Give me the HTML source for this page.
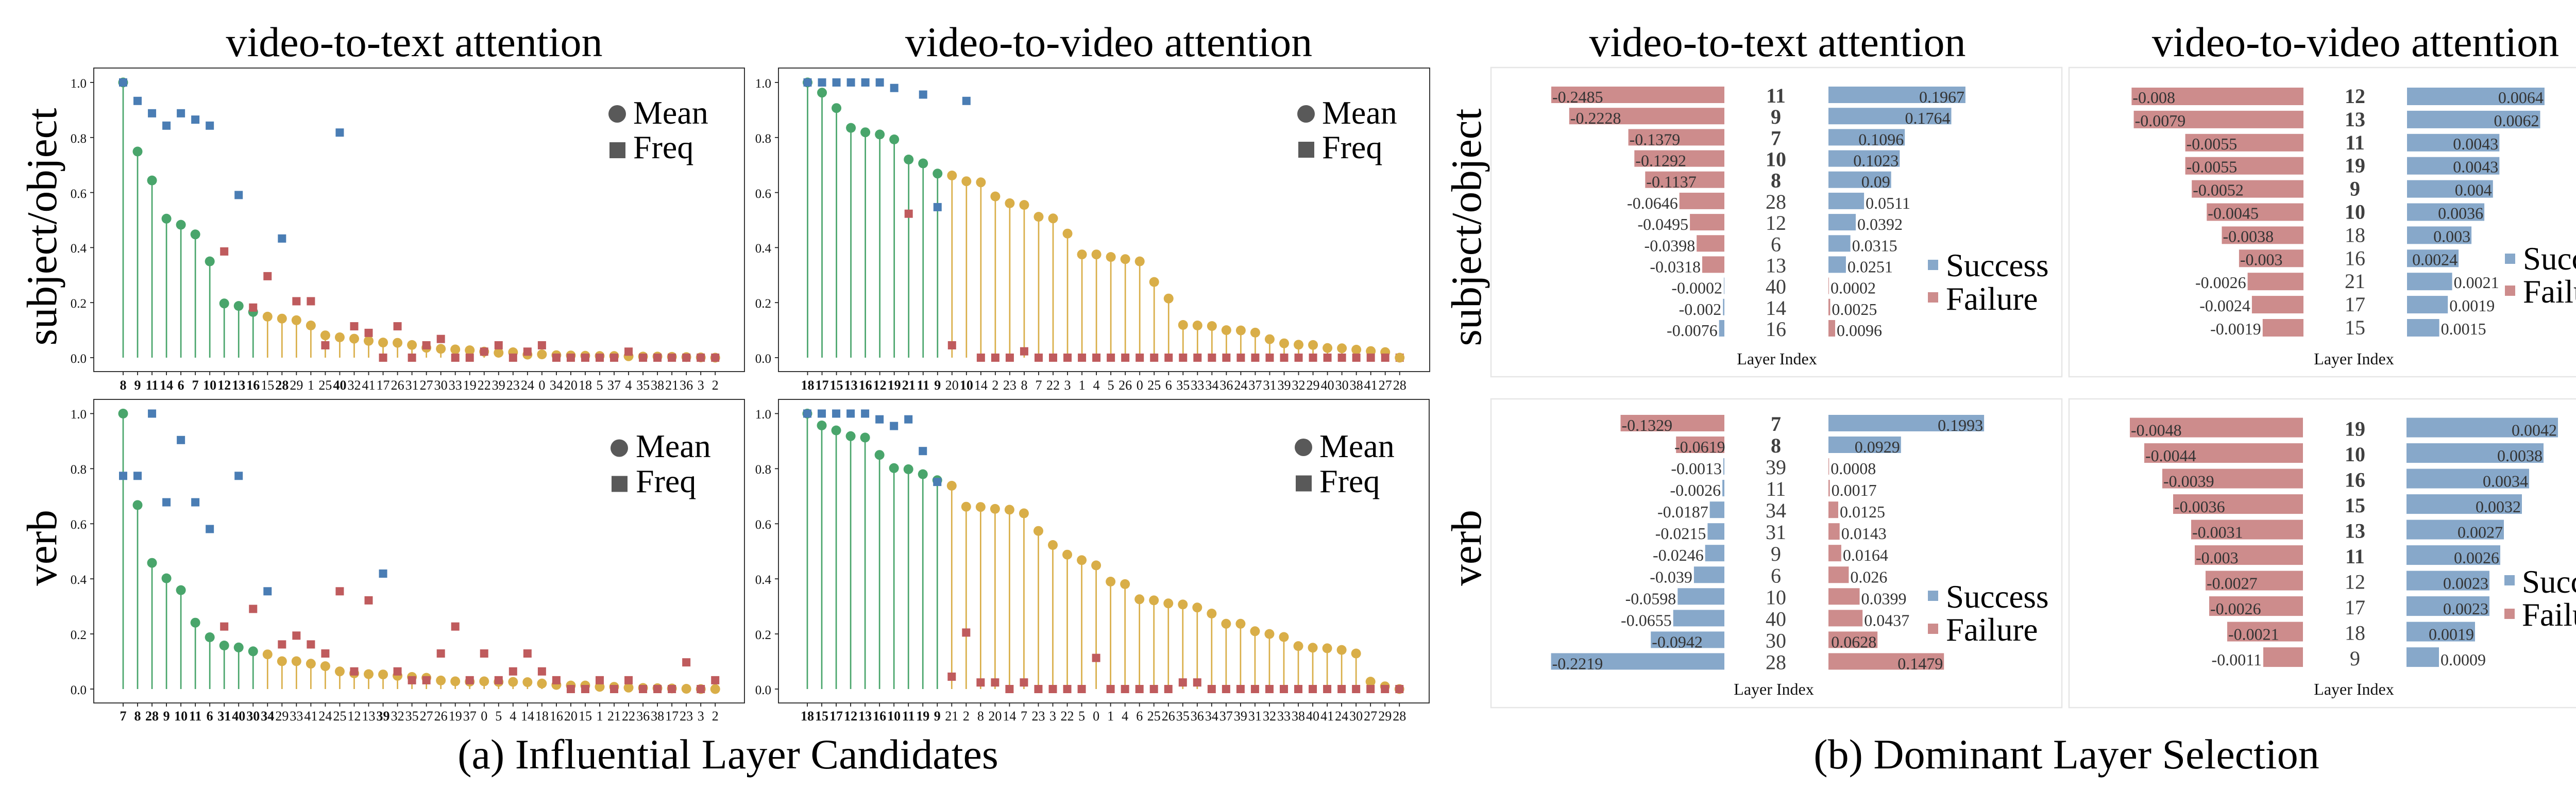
<!DOCTYPE html>
<html><head><meta charset="utf-8"><style>
html,body{margin:0;padding:0;background:#fff}
svg{display:block}
svg text{font-family:"Liberation Serif","Times New Roman",serif;fill:#000}
.k{font-size:26px;text-anchor:middle;fill:#111}
.b{font-weight:bold}
.yt{font-size:25px;text-anchor:end;fill:#111}
.ti{font-size:82px;text-anchor:middle}
.yl{font-size:83px;text-anchor:middle}
.lg{font-size:64px}
.v{font-size:32px;fill:#333}
.e{text-anchor:end}
.L{font-size:40px;fill:#404040;text-anchor:middle}
.li{font-size:32px;text-anchor:middle;fill:#111}
.lg2{font-size:63px}
line.g{stroke:#49a56b;stroke-width:2.7}
line.y{stroke:#d9ae48;stroke-width:2.7}
circle.g{fill:#49a56b}
circle.y{fill:#d9ae48}
.fr{fill:none;stroke:#222;stroke-width:1.8}
.fr2{fill:none;stroke:#e6e6e6;stroke-width:2.5}
.tk{stroke:#222;stroke-width:1.8}
.rr{fill:#cd8c8c}
.bb{fill:#87a8ca}
</style></head><body>
<svg width="5142" height="1562" viewBox="0 0 5142 1562" xmlns="http://www.w3.org/2000/svg">
<defs>
<rect id="B" x="-8" y="-8" width="16" height="16" fill="#4a7db4"/>
<rect id="R" x="-8" y="-8" width="16" height="16" fill="#bf5b5d"/>
<line id="T" x1="0" x2="0" y1="721" y2="728" stroke="#222" stroke-width="1.8"/>
<line id="U" x1="0" x2="0" y1="1364" y2="1371" stroke="#222" stroke-width="1.8"/>
</defs>
<rect width="5142" height="1562" fill="#fff"/>

<!-- Titles -->
<text class="ti" x="804" y="109">video-to-text attention</text>
<text class="ti" x="2152" y="109">video-to-video attention</text>
<text class="ti" x="3450" y="109">video-to-text attention</text>
<text class="ti" x="4572" y="109">video-to-video attention</text>

<!-- Y labels -->
<text class="yl" transform="translate(109,440) rotate(-90)">subject/object</text>
<text class="yl" transform="translate(109,1063) rotate(-90)">verb</text>
<text class="yl" transform="translate(2874,441) rotate(-90)">subject/object</text>
<text class="yl" transform="translate(2874,1063) rotate(-90)">verb</text>

<!-- Captions -->
<text class="ti" x="1413" y="1491">(a) Influential Layer Candidates</text>
<text class="ti" x="4011" y="1491">(b) Dominant Layer Selection</text>

<!-- ================= P1 ================= -->
<rect class="fr" x="182" y="132" width="1263" height="589"/>
<g>
<line class="tk" x1="175" x2="182" y1="694" y2="694"/><text class="yt" x="168" y="704">0.0</text>
<line class="tk" x1="175" x2="182" y1="587.2" y2="587.2"/><text class="yt" x="168" y="597">0.2</text>
<line class="tk" x1="175" x2="182" y1="480.4" y2="480.4"/><text class="yt" x="168" y="490">0.4</text>
<line class="tk" x1="175" x2="182" y1="373.6" y2="373.6"/><text class="yt" x="168" y="384">0.6</text>
<line class="tk" x1="175" x2="182" y1="266.8" y2="266.8"/><text class="yt" x="168" y="277">0.8</text>
<line class="tk" x1="175" x2="182" y1="160" y2="160"/><text class="yt" x="168" y="170">1.0</text>
</g>
<g transform="translate(239,0)">
<g><line class="g" y1="694" y2="160"/><circle class="g" cy="160" r="9.5"/><use href="#B" y="160"/><use href="#T"/><text class="k b" y="756">8</text></g>
<g transform="translate(28.03)"><line class="g" y1="694" y2="294"/><circle class="g" cy="294" r="9.5"/><use href="#B" y="195.8"/><use href="#T"/><text class="k b" y="756">9</text></g>
<g transform="translate(56.06)"><line class="g" y1="694" y2="350.1"/><circle class="g" cy="350.1" r="9.5"/><use href="#B" y="219.8"/><use href="#T"/><text class="k b" y="756">11</text></g>
<g transform="translate(84.09)"><line class="g" y1="694" y2="424.3"/><circle class="g" cy="424.3" r="9.5"/><use href="#B" y="243.8"/><use href="#T"/><text class="k b" y="756">14</text></g>
<g transform="translate(112.12)"><line class="g" y1="694" y2="436.1"/><circle class="g" cy="436.1" r="9.5"/><use href="#B" y="219.8"/><use href="#T"/><text class="k b" y="756">6</text></g>
<g transform="translate(140.15)"><line class="g" y1="694" y2="454.8"/><circle class="g" cy="454.8" r="9.5"/><use href="#B" y="232.1"/><use href="#T"/><text class="k b" y="756">7</text></g>
<g transform="translate(168.18)"><line class="g" y1="694" y2="507.1"/><circle class="g" cy="507.1" r="9.5"/><use href="#B" y="243.8"/><use href="#T"/><text class="k b" y="756">10</text></g>
<g transform="translate(196.21)"><line class="g" y1="694" y2="588.8"/><circle class="g" cy="588.8" r="9.5"/><use href="#R" y="487.9"/><use href="#T"/><text class="k b" y="756">12</text></g>
<g transform="translate(224.24)"><line class="g" y1="694" y2="593.6"/><circle class="g" cy="593.6" r="9.5"/><use href="#B" y="378.4"/><use href="#T"/><text class="k b" y="756">13</text></g>
<g transform="translate(252.27)"><line class="g" y1="694" y2="605.4"/><circle class="g" cy="605.4" r="9.5"/><use href="#R" y="596.8"/><use href="#T"/><text class="k b" y="756">16</text></g>
<g transform="translate(280.3)"><line class="y" y1="694" y2="614.4"/><circle class="y" cy="614.4" r="9.5"/><use href="#R" y="535.9"/><use href="#T"/><text class="k" y="756">15</text></g>
<g transform="translate(308.33)"><line class="y" y1="694" y2="618.2"/><circle class="y" cy="618.2" r="9.5"/><use href="#B" y="462.8"/><use href="#T"/><text class="k b" y="756">28</text></g>
<g transform="translate(336.36)"><line class="y" y1="694" y2="621.4"/><circle class="y" cy="621.4" r="9.5"/><use href="#R" y="584.5"/><use href="#T"/><text class="k" y="756">29</text></g>
<g transform="translate(364.39)"><line class="y" y1="694" y2="631.5"/><circle class="y" cy="631.5" r="9.5"/><use href="#R" y="584.5"/><use href="#T"/><text class="k" y="756">1</text></g>
<g transform="translate(392.42)"><line class="y" y1="694" y2="650.7"/><circle class="y" cy="650.7" r="9.5"/><use href="#R" y="670"/><use href="#T"/><text class="k" y="756">25</text></g>
<g transform="translate(420.45)"><line class="y" y1="694" y2="654.5"/><circle class="y" cy="654.5" r="9.5"/><use href="#B" y="257.2"/><use href="#T"/><text class="k b" y="756">40</text></g>
<g transform="translate(448.48)"><line class="y" y1="694" y2="657.2"/><circle class="y" cy="657.2" r="9.5"/><use href="#R" y="633.1"/><use href="#T"/><text class="k" y="756">32</text></g>
<g transform="translate(476.51)"><line class="y" y1="694" y2="661.4"/><circle class="y" cy="661.4" r="9.5"/><use href="#R" y="645.9"/><use href="#T"/><text class="k" y="756">41</text></g>
<g transform="translate(504.54)"><line class="y" y1="694" y2="664.6"/><circle class="y" cy="664.6" r="9.5"/><use href="#R" y="694"/><use href="#T"/><text class="k" y="756">17</text></g>
<g transform="translate(532.57)"><line class="y" y1="694" y2="665.2"/><circle class="y" cy="665.2" r="9.5"/><use href="#R" y="633.1"/><use href="#T"/><text class="k" y="756">26</text></g>
<g transform="translate(560.6)"><line class="y" y1="694" y2="669.4"/><circle class="y" cy="669.4" r="9.5"/><use href="#R" y="694"/><use href="#T"/><text class="k" y="756">31</text></g>
<g transform="translate(588.63)"><line class="y" y1="694" y2="674.8"/><circle class="y" cy="674.8" r="9.5"/><use href="#R" y="670"/><use href="#T"/><text class="k" y="756">27</text></g>
<g transform="translate(616.66)"><line class="y" y1="694" y2="676.9"/><circle class="y" cy="676.9" r="9.5"/><use href="#R" y="657.7"/><use href="#T"/><text class="k" y="756">30</text></g>
<g transform="translate(644.69)"><line class="y" y1="694" y2="678"/><circle class="y" cy="678" r="9.5"/><use href="#R" y="694"/><use href="#T"/><text class="k" y="756">33</text></g>
<g transform="translate(672.72)"><line class="y" y1="694" y2="679.6"/><circle class="y" cy="679.6" r="9.5"/><use href="#R" y="694"/><use href="#T"/><text class="k" y="756">19</text></g>
<g transform="translate(700.75)"><line class="y" y1="694" y2="682.3"/><circle class="y" cy="682.3" r="9.5"/><use href="#R" y="682.3"/><use href="#T"/><text class="k" y="756">22</text></g>
<g transform="translate(728.78)"><line class="y" y1="694" y2="684.5"/><circle class="y" cy="684.5" r="9.5"/><use href="#R" y="670"/><use href="#T"/><text class="k" y="756">39</text></g>
<g transform="translate(756.81)"><line class="y" y1="694" y2="683.5"/><circle class="y" cy="683.5" r="9.5"/><use href="#R" y="694"/><use href="#T"/><text class="k" y="756">23</text></g>
<g transform="translate(784.84)"><line class="y" y1="694" y2="688.1"/><circle class="y" cy="688.1" r="9.5"/><use href="#R" y="682.3"/><use href="#T"/><text class="k" y="756">24</text></g>
<g transform="translate(812.87)"><line class="y" y1="694" y2="687.6"/><circle class="y" cy="687.6" r="9.5"/><use href="#R" y="670"/><use href="#T"/><text class="k" y="756">0</text></g>
<g transform="translate(840.9)"><line class="y" y1="694" y2="689.2"/><circle class="y" cy="689.2" r="9.5"/><use href="#R" y="694"/><use href="#T"/><text class="k" y="756">34</text></g>
<g transform="translate(868.93)"><line class="y" y1="694" y2="689.7"/><circle class="y" cy="689.7" r="9.5"/><use href="#R" y="694"/><use href="#T"/><text class="k" y="756">20</text></g>
<g transform="translate(896.96)"><line class="y" y1="694" y2="690.3"/><circle class="y" cy="690.3" r="9.5"/><use href="#R" y="694"/><use href="#T"/><text class="k" y="756">18</text></g>
<g transform="translate(924.99)"><line class="y" y1="694" y2="690.8"/><circle class="y" cy="690.8" r="9.5"/><use href="#R" y="694"/><use href="#T"/><text class="k" y="756">5</text></g>
<g transform="translate(953.02)"><line class="y" y1="694" y2="690.8"/><circle class="y" cy="690.8" r="9.5"/><use href="#R" y="694"/><use href="#T"/><text class="k" y="756">37</text></g>
<g transform="translate(981.05)"><line class="y" y1="694" y2="691.3"/><circle class="y" cy="691.3" r="9.5"/><use href="#R" y="682.3"/><use href="#T"/><text class="k" y="756">4</text></g>
<g transform="translate(1009.08)"><line class="y" y1="694" y2="691.9"/><circle class="y" cy="691.9" r="9.5"/><use href="#R" y="694"/><use href="#T"/><text class="k" y="756">35</text></g>
<g transform="translate(1037.11)"><line class="y" y1="694" y2="691.9"/><circle class="y" cy="691.9" r="9.5"/><use href="#R" y="694"/><use href="#T"/><text class="k" y="756">38</text></g>
<g transform="translate(1065.14)"><line class="y" y1="694" y2="692.4"/><circle class="y" cy="692.4" r="9.5"/><use href="#R" y="694"/><use href="#T"/><text class="k" y="756">21</text></g>
<g transform="translate(1093.17)"><line class="y" y1="694" y2="692.9"/><circle class="y" cy="692.9" r="9.5"/><use href="#R" y="694"/><use href="#T"/><text class="k" y="756">36</text></g>
<g transform="translate(1121.2)"><line class="y" y1="694" y2="693.5"/><circle class="y" cy="693.5" r="9.5"/><use href="#R" y="694"/><use href="#T"/><text class="k" y="756">3</text></g>
<g transform="translate(1149.23)"><circle class="y" cy="694" r="9.5"/><use href="#R" y="694"/><use href="#T"/><text class="k" y="756">2</text></g>
</g>
<circle cx="1198" cy="221" r="17" fill="#595959"/>
<rect x="1183" y="276" width="31" height="31" fill="#595959"/>
<text class="lg" x="1229" y="240">Mean</text>
<text class="lg" x="1229" y="307">Freq</text>

<!-- ================= P2 ================= -->
<rect class="fr" x="1511" y="132" width="1264" height="589"/>
<g>
<line class="tk" x1="1504" x2="1511" y1="694" y2="694"/><text class="yt" x="1497" y="704">0.0</text>
<line class="tk" x1="1504" x2="1511" y1="587.2" y2="587.2"/><text class="yt" x="1497" y="597">0.2</text>
<line class="tk" x1="1504" x2="1511" y1="480.4" y2="480.4"/><text class="yt" x="1497" y="490">0.4</text>
<line class="tk" x1="1504" x2="1511" y1="373.6" y2="373.6"/><text class="yt" x="1497" y="384">0.6</text>
<line class="tk" x1="1504" x2="1511" y1="266.8" y2="266.8"/><text class="yt" x="1497" y="277">0.8</text>
<line class="tk" x1="1504" x2="1511" y1="160" y2="160"/><text class="yt" x="1497" y="170">1.0</text>
</g>
<g transform="translate(1567.5,0)">
<g><line class="g" y1="694" y2="160"/><circle class="g" cy="160" r="9.5"/><use href="#B" y="160"/><use href="#T"/><text class="k b" y="756">18</text></g>
<g transform="translate(28.03)"><line class="g" y1="694" y2="179.8"/><circle class="g" cy="179.8" r="9.5"/><use href="#B" y="160"/><use href="#T"/><text class="k b" y="756">17</text></g>
<g transform="translate(56.06)"><line class="g" y1="694" y2="209.7"/><circle class="g" cy="209.7" r="9.5"/><use href="#B" y="160"/><use href="#T"/><text class="k b" y="756">15</text></g>
<g transform="translate(84.09)"><line class="g" y1="694" y2="248.1"/><circle class="g" cy="248.1" r="9.5"/><use href="#B" y="160"/><use href="#T"/><text class="k b" y="756">13</text></g>
<g transform="translate(112.12)"><line class="g" y1="694" y2="256.7"/><circle class="g" cy="256.7" r="9.5"/><use href="#B" y="160"/><use href="#T"/><text class="k b" y="756">16</text></g>
<g transform="translate(140.15)"><line class="g" y1="694" y2="260.9"/><circle class="g" cy="260.9" r="9.5"/><use href="#B" y="160"/><use href="#T"/><text class="k b" y="756">12</text></g>
<g transform="translate(168.18)"><line class="g" y1="694" y2="270.5"/><circle class="g" cy="270.5" r="9.5"/><use href="#B" y="170.7"/><use href="#T"/><text class="k b" y="756">19</text></g>
<g transform="translate(196.21)"><line class="g" y1="694" y2="309.5"/><circle class="g" cy="309.5" r="9.5"/><use href="#R" y="414.7"/><use href="#T"/><text class="k b" y="756">21</text></g>
<g transform="translate(224.24)"><line class="g" y1="694" y2="317"/><circle class="g" cy="317" r="9.5"/><use href="#B" y="183.5"/><use href="#T"/><text class="k b" y="756">11</text></g>
<g transform="translate(252.27)"><line class="g" y1="694" y2="336.8"/><circle class="g" cy="336.8" r="9.5"/><use href="#B" y="401.9"/><use href="#T"/><text class="k b" y="756">9</text></g>
<g transform="translate(280.3)"><line class="y" y1="694" y2="340.5"/><circle class="y" cy="340.5" r="9.5"/><use href="#R" y="670"/><use href="#T"/><text class="k" y="756">20</text></g>
<g transform="translate(308.33)"><line class="y" y1="694" y2="351.7"/><circle class="y" cy="351.7" r="9.5"/><use href="#B" y="195.8"/><use href="#T"/><text class="k b" y="756">10</text></g>
<g transform="translate(336.36)"><line class="y" y1="694" y2="353.8"/><circle class="y" cy="353.8" r="9.5"/><use href="#R" y="694"/><use href="#T"/><text class="k" y="756">14</text></g>
<g transform="translate(364.39)"><line class="y" y1="694" y2="381.1"/><circle class="y" cy="381.1" r="9.5"/><use href="#R" y="694"/><use href="#T"/><text class="k" y="756">2</text></g>
<g transform="translate(392.42)"><line class="y" y1="694" y2="394.4"/><circle class="y" cy="394.4" r="9.5"/><use href="#R" y="694"/><use href="#T"/><text class="k" y="756">23</text></g>
<g transform="translate(420.45)"><line class="y" y1="694" y2="397.6"/><circle class="y" cy="397.6" r="9.5"/><use href="#R" y="681.7"/><use href="#T"/><text class="k" y="756">8</text></g>
<g transform="translate(448.48)"><line class="y" y1="694" y2="420.6"/><circle class="y" cy="420.6" r="9.5"/><use href="#R" y="694"/><use href="#T"/><text class="k" y="756">7</text></g>
<g transform="translate(476.51)"><line class="y" y1="694" y2="423.8"/><circle class="y" cy="423.8" r="9.5"/><use href="#R" y="694"/><use href="#T"/><text class="k" y="756">22</text></g>
<g transform="translate(504.54)"><line class="y" y1="694" y2="453.2"/><circle class="y" cy="453.2" r="9.5"/><use href="#R" y="694"/><use href="#T"/><text class="k" y="756">3</text></g>
<g transform="translate(532.57)"><line class="y" y1="694" y2="493.7"/><circle class="y" cy="493.7" r="9.5"/><use href="#R" y="694"/><use href="#T"/><text class="k" y="756">1</text></g>
<g transform="translate(560.6)"><line class="y" y1="694" y2="493.7"/><circle class="y" cy="493.7" r="9.5"/><use href="#R" y="694"/><use href="#T"/><text class="k" y="756">4</text></g>
<g transform="translate(588.63)"><line class="y" y1="694" y2="498.6"/><circle class="y" cy="498.6" r="9.5"/><use href="#R" y="694"/><use href="#T"/><text class="k" y="756">5</text></g>
<g transform="translate(616.66)"><line class="y" y1="694" y2="502.8"/><circle class="y" cy="502.8" r="9.5"/><use href="#R" y="694"/><use href="#T"/><text class="k" y="756">26</text></g>
<g transform="translate(644.69)"><line class="y" y1="694" y2="507.1"/><circle class="y" cy="507.1" r="9.5"/><use href="#R" y="694"/><use href="#T"/><text class="k" y="756">0</text></g>
<g transform="translate(672.72)"><line class="y" y1="694" y2="547.1"/><circle class="y" cy="547.1" r="9.5"/><use href="#R" y="694"/><use href="#T"/><text class="k" y="756">25</text></g>
<g transform="translate(700.75)"><line class="y" y1="694" y2="579.2"/><circle class="y" cy="579.2" r="9.5"/><use href="#R" y="694"/><use href="#T"/><text class="k" y="756">6</text></g>
<g transform="translate(728.78)"><line class="y" y1="694" y2="630.5"/><circle class="y" cy="630.5" r="9.5"/><use href="#R" y="694"/><use href="#T"/><text class="k" y="756">35</text></g>
<g transform="translate(756.81)"><line class="y" y1="694" y2="631.5"/><circle class="y" cy="631.5" r="9.5"/><use href="#R" y="694"/><use href="#T"/><text class="k" y="756">33</text></g>
<g transform="translate(784.84)"><line class="y" y1="694" y2="632.6"/><circle class="y" cy="632.6" r="9.5"/><use href="#R" y="694"/><use href="#T"/><text class="k" y="756">34</text></g>
<g transform="translate(812.87)"><line class="y" y1="694" y2="640.6"/><circle class="y" cy="640.6" r="9.5"/><use href="#R" y="694"/><use href="#T"/><text class="k" y="756">36</text></g>
<g transform="translate(840.9)"><line class="y" y1="694" y2="641.1"/><circle class="y" cy="641.1" r="9.5"/><use href="#R" y="694"/><use href="#T"/><text class="k" y="756">24</text></g>
<g transform="translate(868.93)"><line class="y" y1="694" y2="645.4"/><circle class="y" cy="645.4" r="9.5"/><use href="#R" y="694"/><use href="#T"/><text class="k" y="756">37</text></g>
<g transform="translate(896.96)"><line class="y" y1="694" y2="658.2"/><circle class="y" cy="658.2" r="9.5"/><use href="#R" y="694"/><use href="#T"/><text class="k" y="756">31</text></g>
<g transform="translate(924.99)"><line class="y" y1="694" y2="666.2"/><circle class="y" cy="666.2" r="9.5"/><use href="#R" y="694"/><use href="#T"/><text class="k" y="756">39</text></g>
<g transform="translate(953.02)"><line class="y" y1="694" y2="668.9"/><circle class="y" cy="668.9" r="9.5"/><use href="#R" y="694"/><use href="#T"/><text class="k" y="756">32</text></g>
<g transform="translate(981.05)"><line class="y" y1="694" y2="669.4"/><circle class="y" cy="669.4" r="9.5"/><use href="#R" y="694"/><use href="#T"/><text class="k" y="756">29</text></g>
<g transform="translate(1009.08)"><line class="y" y1="694" y2="675.3"/><circle class="y" cy="675.3" r="9.5"/><use href="#R" y="694"/><use href="#T"/><text class="k" y="756">40</text></g>
<g transform="translate(1037.11)"><line class="y" y1="694" y2="675.8"/><circle class="y" cy="675.8" r="9.5"/><use href="#R" y="694"/><use href="#T"/><text class="k" y="756">30</text></g>
<g transform="translate(1065.14)"><line class="y" y1="694" y2="678.5"/><circle class="y" cy="678.5" r="9.5"/><use href="#R" y="694"/><use href="#T"/><text class="k" y="756">38</text></g>
<g transform="translate(1093.17)"><line class="y" y1="694" y2="681.2"/><circle class="y" cy="681.2" r="9.5"/><use href="#R" y="694"/><use href="#T"/><text class="k" y="756">41</text></g>
<g transform="translate(1121.2)"><line class="y" y1="694" y2="683.3"/><circle class="y" cy="683.3" r="9.5"/><use href="#R" y="694"/><use href="#T"/><text class="k" y="756">27</text></g>
<g transform="translate(1149.23)"><use href="#R" y="694"/><circle class="y" cy="694" r="9.5"/><use href="#T"/><text class="k" y="756">28</text></g>
</g>
<circle cx="2535" cy="221" r="17" fill="#595959"/>
<rect x="2520" y="275" width="31" height="31" fill="#595959"/>
<text class="lg" x="2566" y="240">Mean</text>
<text class="lg" x="2566" y="307">Freq</text>

<!-- ================= P3 ================= -->
<rect class="fr" x="182" y="775" width="1263" height="589"/>
<g>
<line class="tk" x1="175" x2="182" y1="1337" y2="1337"/><text class="yt" x="168" y="1347">0.0</text>
<line class="tk" x1="175" x2="182" y1="1230.1" y2="1230.1"/><text class="yt" x="168" y="1240">0.2</text>
<line class="tk" x1="175" x2="182" y1="1123.2" y2="1123.2"/><text class="yt" x="168" y="1133">0.4</text>
<line class="tk" x1="175" x2="182" y1="1016.3" y2="1016.3"/><text class="yt" x="168" y="1026">0.6</text>
<line class="tk" x1="175" x2="182" y1="909.4" y2="909.4"/><text class="yt" x="168" y="919">0.8</text>
<line class="tk" x1="175" x2="182" y1="802.5" y2="802.5"/><text class="yt" x="168" y="812">1.0</text>
</g>
<g transform="translate(239,0)">
<g><line class="g" y1="1337" y2="802.5"/><circle class="g" cy="802.5" r="9.5"/><use href="#B" y="923.3"/><use href="#U"/><text class="k b" y="1398">7</text></g>
<g transform="translate(28.03)"><line class="g" y1="1337" y2="980"/><circle class="g" cy="980" r="9.5"/><use href="#B" y="923.3"/><use href="#U"/><text class="k b" y="1398">8</text></g>
<g transform="translate(56.06)"><line class="g" y1="1337" y2="1092.2"/><circle class="g" cy="1092.2" r="9.5"/><use href="#B" y="802.5"/><use href="#U"/><text class="k b" y="1398">28</text></g>
<g transform="translate(84.09)"><line class="g" y1="1337" y2="1122.1"/><circle class="g" cy="1122.1" r="9.5"/><use href="#B" y="974.6"/><use href="#U"/><text class="k b" y="1398">9</text></g>
<g transform="translate(112.12)"><line class="g" y1="1337" y2="1145.1"/><circle class="g" cy="1145.1" r="9.5"/><use href="#B" y="853.8"/><use href="#U"/><text class="k b" y="1398">10</text></g>
<g transform="translate(140.15)"><line class="g" y1="1337" y2="1208.2"/><circle class="g" cy="1208.2" r="9.5"/><use href="#B" y="974.6"/><use href="#U"/><text class="k b" y="1398">11</text></g>
<g transform="translate(168.18)"><line class="g" y1="1337" y2="1236.5"/><circle class="g" cy="1236.5" r="9.5"/><use href="#B" y="1026.5"/><use href="#U"/><text class="k b" y="1398">6</text></g>
<g transform="translate(196.21)"><line class="g" y1="1337" y2="1252.5"/><circle class="g" cy="1252.5" r="9.5"/><use href="#R" y="1215.7"/><use href="#U"/><text class="k b" y="1398">31</text></g>
<g transform="translate(224.24)"><line class="g" y1="1337" y2="1256.3"/><circle class="g" cy="1256.3" r="9.5"/><use href="#B" y="923.3"/><use href="#U"/><text class="k b" y="1398">40</text></g>
<g transform="translate(252.27)"><line class="g" y1="1337" y2="1263.8"/><circle class="g" cy="1263.8" r="9.5"/><use href="#R" y="1181.5"/><use href="#U"/><text class="k b" y="1398">30</text></g>
<g transform="translate(280.3)"><line class="y" y1="1337" y2="1269.7"/><circle class="y" cy="1269.7" r="9.5"/><use href="#B" y="1147.3"/><use href="#U"/><text class="k b" y="1398">34</text></g>
<g transform="translate(308.33)"><line class="y" y1="1337" y2="1283"/><circle class="y" cy="1283" r="9.5"/><use href="#R" y="1250.4"/><use href="#U"/><text class="k" y="1398">29</text></g>
<g transform="translate(336.36)"><line class="y" y1="1337" y2="1283"/><circle class="y" cy="1283" r="9.5"/><use href="#R" y="1233.3"/><use href="#U"/><text class="k" y="1398">33</text></g>
<g transform="translate(364.39)"><line class="y" y1="1337" y2="1287.8"/><circle class="y" cy="1287.8" r="9.5"/><use href="#R" y="1250.4"/><use href="#U"/><text class="k" y="1398">41</text></g>
<g transform="translate(392.42)"><line class="y" y1="1337" y2="1292.6"/><circle class="y" cy="1292.6" r="9.5"/><use href="#R" y="1268"/><use href="#U"/><text class="k" y="1398">24</text></g>
<g transform="translate(420.45)"><line class="y" y1="1337" y2="1302.8"/><circle class="y" cy="1302.8" r="9.5"/><use href="#R" y="1147.3"/><use href="#U"/><text class="k" y="1398">25</text></g>
<g transform="translate(448.48)"><line class="y" y1="1337" y2="1306.5"/><circle class="y" cy="1306.5" r="9.5"/><use href="#R" y="1302.8"/><use href="#U"/><text class="k" y="1398">12</text></g>
<g transform="translate(476.51)"><line class="y" y1="1337" y2="1308.1"/><circle class="y" cy="1308.1" r="9.5"/><use href="#R" y="1164.9"/><use href="#U"/><text class="k" y="1398">13</text></g>
<g transform="translate(504.54)"><line class="y" y1="1337" y2="1308.7"/><circle class="y" cy="1308.7" r="9.5"/><use href="#B" y="1113"/><use href="#U"/><text class="k b" y="1398">39</text></g>
<g transform="translate(532.57)"><line class="y" y1="1337" y2="1311.3"/><circle class="y" cy="1311.3" r="9.5"/><use href="#R" y="1302.8"/><use href="#U"/><text class="k" y="1398">32</text></g>
<g transform="translate(560.6)"><line class="y" y1="1337" y2="1313.5"/><circle class="y" cy="1313.5" r="9.5"/><use href="#R" y="1319.9"/><use href="#U"/><text class="k" y="1398">35</text></g>
<g transform="translate(588.63)"><line class="y" y1="1337" y2="1315.1"/><circle class="y" cy="1315.1" r="9.5"/><use href="#R" y="1319.9"/><use href="#U"/><text class="k" y="1398">27</text></g>
<g transform="translate(616.66)"><line class="y" y1="1337" y2="1320.4"/><circle class="y" cy="1320.4" r="9.5"/><use href="#R" y="1268"/><use href="#U"/><text class="k" y="1398">26</text></g>
<g transform="translate(644.69)"><line class="y" y1="1337" y2="1322"/><circle class="y" cy="1322" r="9.5"/><use href="#R" y="1215.7"/><use href="#U"/><text class="k" y="1398">19</text></g>
<g transform="translate(672.72)"><line class="y" y1="1337" y2="1322.6"/><circle class="y" cy="1322.6" r="9.5"/><use href="#R" y="1319.9"/><use href="#U"/><text class="k" y="1398">37</text></g>
<g transform="translate(700.75)"><line class="y" y1="1337" y2="1322"/><circle class="y" cy="1322" r="9.5"/><use href="#R" y="1268"/><use href="#U"/><text class="k" y="1398">0</text></g>
<g transform="translate(728.78)"><line class="y" y1="1337" y2="1323.1"/><circle class="y" cy="1323.1" r="9.5"/><use href="#R" y="1319.9"/><use href="#U"/><text class="k" y="1398">5</text></g>
<g transform="translate(756.81)"><line class="y" y1="1337" y2="1323.1"/><circle class="y" cy="1323.1" r="9.5"/><use href="#R" y="1302.8"/><use href="#U"/><text class="k" y="1398">4</text></g>
<g transform="translate(784.84)"><line class="y" y1="1337" y2="1323.6"/><circle class="y" cy="1323.6" r="9.5"/><use href="#R" y="1268"/><use href="#U"/><text class="k" y="1398">14</text></g>
<g transform="translate(812.87)"><line class="y" y1="1337" y2="1326.3"/><circle class="y" cy="1326.3" r="9.5"/><use href="#R" y="1302.8"/><use href="#U"/><text class="k" y="1398">18</text></g>
<g transform="translate(840.9)"><line class="y" y1="1337" y2="1329"/><circle class="y" cy="1329" r="9.5"/><use href="#R" y="1319.9"/><use href="#U"/><text class="k" y="1398">16</text></g>
<g transform="translate(868.93)"><line class="y" y1="1337" y2="1330.1"/><circle class="y" cy="1330.1" r="9.5"/><use href="#R" y="1337"/><use href="#U"/><text class="k" y="1398">20</text></g>
<g transform="translate(896.96)"><line class="y" y1="1337" y2="1330.1"/><circle class="y" cy="1330.1" r="9.5"/><use href="#R" y="1337"/><use href="#U"/><text class="k" y="1398">15</text></g>
<g transform="translate(924.99)"><line class="y" y1="1337" y2="1332.7"/><circle class="y" cy="1332.7" r="9.5"/><use href="#R" y="1319.9"/><use href="#U"/><text class="k" y="1398">1</text></g>
<g transform="translate(953.02)"><line class="y" y1="1337" y2="1332.7"/><circle class="y" cy="1332.7" r="9.5"/><use href="#R" y="1337"/><use href="#U"/><text class="k" y="1398">21</text></g>
<g transform="translate(981.05)"><line class="y" y1="1337" y2="1334.3"/><circle class="y" cy="1334.3" r="9.5"/><use href="#R" y="1319.9"/><use href="#U"/><text class="k" y="1398">22</text></g>
<g transform="translate(1009.08)"><line class="y" y1="1337" y2="1334.9"/><circle class="y" cy="1334.9" r="9.5"/><use href="#R" y="1337"/><use href="#U"/><text class="k" y="1398">36</text></g>
<g transform="translate(1037.11)"><line class="y" y1="1337" y2="1335.4"/><circle class="y" cy="1335.4" r="9.5"/><use href="#R" y="1337"/><use href="#U"/><text class="k" y="1398">38</text></g>
<g transform="translate(1065.14)"><line class="y" y1="1337" y2="1335.9"/><circle class="y" cy="1335.9" r="9.5"/><use href="#R" y="1337"/><use href="#U"/><text class="k" y="1398">17</text></g>
<g transform="translate(1093.17)"><circle class="y" cy="1336.5" r="9.5"/><use href="#R" y="1285.2"/><use href="#U"/><text class="k" y="1398">23</text></g>
<g transform="translate(1121.2)"><circle class="y" cy="1337" r="9.5"/><use href="#R" y="1337"/><use href="#U"/><text class="k" y="1398">3</text></g>
<g transform="translate(1149.23)"><circle class="y" cy="1337" r="9.5"/><use href="#R" y="1319.9"/><use href="#U"/><text class="k" y="1398">2</text></g>
</g>
<circle cx="1202" cy="869.5" r="17" fill="#595959"/>
<rect x="1187" y="923.5" width="31" height="31" fill="#595959"/>
<text class="lg" x="1234" y="887">Mean</text>
<text class="lg" x="1234" y="955">Freq</text>

<!-- ================= P4 ================= -->
<rect class="fr" x="1511" y="775" width="1263" height="589"/>
<g>
<line class="tk" x1="1504" x2="1511" y1="1337" y2="1337"/><text class="yt" x="1497" y="1347">0.0</text>
<line class="tk" x1="1504" x2="1511" y1="1230.1" y2="1230.1"/><text class="yt" x="1497" y="1240">0.2</text>
<line class="tk" x1="1504" x2="1511" y1="1123.2" y2="1123.2"/><text class="yt" x="1497" y="1133">0.4</text>
<line class="tk" x1="1504" x2="1511" y1="1016.3" y2="1016.3"/><text class="yt" x="1497" y="1026">0.6</text>
<line class="tk" x1="1504" x2="1511" y1="909.4" y2="909.4"/><text class="yt" x="1497" y="919">0.8</text>
<line class="tk" x1="1504" x2="1511" y1="802.5" y2="802.5"/><text class="yt" x="1497" y="812">1.0</text>
</g>
<g transform="translate(1567,0)">
<g><line class="g" y1="1337" y2="802.5"/><circle class="g" cy="802.5" r="9.5"/><use href="#B" y="802.5"/><use href="#U"/><text class="k b" y="1398">18</text></g>
<g transform="translate(28.03)"><line class="g" y1="1337" y2="825.5"/><circle class="g" cy="825.5" r="9.5"/><use href="#B" y="802.5"/><use href="#U"/><text class="k b" y="1398">15</text></g>
<g transform="translate(56.06)"><line class="g" y1="1337" y2="835.1"/><circle class="g" cy="835.1" r="9.5"/><use href="#B" y="802.5"/><use href="#U"/><text class="k b" y="1398">17</text></g>
<g transform="translate(84.09)"><line class="g" y1="1337" y2="846.3"/><circle class="g" cy="846.3" r="9.5"/><use href="#B" y="802.5"/><use href="#U"/><text class="k b" y="1398">12</text></g>
<g transform="translate(112.12)"><line class="g" y1="1337" y2="849"/><circle class="g" cy="849" r="9.5"/><use href="#B" y="802.5"/><use href="#U"/><text class="k b" y="1398">13</text></g>
<g transform="translate(140.15)"><line class="g" y1="1337" y2="882.7"/><circle class="g" cy="882.7" r="9.5"/><use href="#B" y="813.7"/><use href="#U"/><text class="k b" y="1398">16</text></g>
<g transform="translate(168.18)"><line class="g" y1="1337" y2="908.3"/><circle class="g" cy="908.3" r="9.5"/><use href="#B" y="826.6"/><use href="#U"/><text class="k b" y="1398">10</text></g>
<g transform="translate(196.21)"><line class="g" y1="1337" y2="910.5"/><circle class="g" cy="910.5" r="9.5"/><use href="#B" y="813.7"/><use href="#U"/><text class="k b" y="1398">11</text></g>
<g transform="translate(224.24)"><line class="g" y1="1337" y2="920.1"/><circle class="g" cy="920.1" r="9.5"/><use href="#B" y="875.2"/><use href="#U"/><text class="k b" y="1398">19</text></g>
<g transform="translate(252.27)"><line class="g" y1="1337" y2="931.8"/><circle class="g" cy="931.8" r="9.5"/><use href="#B" y="935.1"/><use href="#U"/><text class="k b" y="1398">9</text></g>
<g transform="translate(280.3)"><line class="y" y1="1337" y2="942.5"/><circle class="y" cy="942.5" r="9.5"/><use href="#R" y="1313"/><use href="#U"/><text class="k" y="1398">21</text></g>
<g transform="translate(308.33)"><line class="y" y1="1337" y2="983.2"/><circle class="y" cy="983.2" r="9.5"/><use href="#R" y="1227.4"/><use href="#U"/><text class="k" y="1398">2</text></g>
<g transform="translate(336.36)"><line class="y" y1="1337" y2="983.7"/><circle class="y" cy="983.7" r="9.5"/><use href="#R" y="1324.2"/><use href="#U"/><text class="k" y="1398">8</text></g>
<g transform="translate(364.39)"><line class="y" y1="1337" y2="987.4"/><circle class="y" cy="987.4" r="9.5"/><use href="#R" y="1324.2"/><use href="#U"/><text class="k" y="1398">20</text></g>
<g transform="translate(392.42)"><line class="y" y1="1337" y2="989"/><circle class="y" cy="989" r="9.5"/><use href="#R" y="1337"/><use href="#U"/><text class="k" y="1398">14</text></g>
<g transform="translate(420.45)"><line class="y" y1="1337" y2="996"/><circle class="y" cy="996" r="9.5"/><use href="#R" y="1324.2"/><use href="#U"/><text class="k" y="1398">7</text></g>
<g transform="translate(448.48)"><line class="y" y1="1337" y2="1030.2"/><circle class="y" cy="1030.2" r="9.5"/><use href="#R" y="1337"/><use href="#U"/><text class="k" y="1398">23</text></g>
<g transform="translate(476.51)"><line class="y" y1="1337" y2="1057.5"/><circle class="y" cy="1057.5" r="9.5"/><use href="#R" y="1337"/><use href="#U"/><text class="k" y="1398">3</text></g>
<g transform="translate(504.54)"><line class="y" y1="1337" y2="1076.2"/><circle class="y" cy="1076.2" r="9.5"/><use href="#R" y="1337"/><use href="#U"/><text class="k" y="1398">22</text></g>
<g transform="translate(532.57)"><line class="y" y1="1337" y2="1086.9"/><circle class="y" cy="1086.9" r="9.5"/><use href="#R" y="1337"/><use href="#U"/><text class="k" y="1398">5</text></g>
<g transform="translate(560.6)"><line class="y" y1="1337" y2="1097"/><circle class="y" cy="1097" r="9.5"/><use href="#R" y="1276.6"/><use href="#U"/><text class="k" y="1398">0</text></g>
<g transform="translate(588.63)"><line class="y" y1="1337" y2="1128.5"/><circle class="y" cy="1128.5" r="9.5"/><use href="#R" y="1337"/><use href="#U"/><text class="k" y="1398">1</text></g>
<g transform="translate(616.66)"><line class="y" y1="1337" y2="1133.4"/><circle class="y" cy="1133.4" r="9.5"/><use href="#R" y="1337"/><use href="#U"/><text class="k" y="1398">4</text></g>
<g transform="translate(644.69)"><line class="y" y1="1337" y2="1162.8"/><circle class="y" cy="1162.8" r="9.5"/><use href="#R" y="1337"/><use href="#U"/><text class="k" y="1398">6</text></g>
<g transform="translate(672.72)"><line class="y" y1="1337" y2="1164.9"/><circle class="y" cy="1164.9" r="9.5"/><use href="#R" y="1337"/><use href="#U"/><text class="k" y="1398">25</text></g>
<g transform="translate(700.75)"><line class="y" y1="1337" y2="1170.8"/><circle class="y" cy="1170.8" r="9.5"/><use href="#R" y="1337"/><use href="#U"/><text class="k" y="1398">26</text></g>
<g transform="translate(728.78)"><line class="y" y1="1337" y2="1172.9"/><circle class="y" cy="1172.9" r="9.5"/><use href="#R" y="1324.2"/><use href="#U"/><text class="k" y="1398">35</text></g>
<g transform="translate(756.81)"><line class="y" y1="1337" y2="1178.8"/><circle class="y" cy="1178.8" r="9.5"/><use href="#R" y="1324.2"/><use href="#U"/><text class="k" y="1398">36</text></g>
<g transform="translate(784.84)"><line class="y" y1="1337" y2="1190.5"/><circle class="y" cy="1190.5" r="9.5"/><use href="#R" y="1337"/><use href="#U"/><text class="k" y="1398">34</text></g>
<g transform="translate(812.87)"><line class="y" y1="1337" y2="1210.3"/><circle class="y" cy="1210.3" r="9.5"/><use href="#R" y="1337"/><use href="#U"/><text class="k" y="1398">37</text></g>
<g transform="translate(840.9)"><line class="y" y1="1337" y2="1210.3"/><circle class="y" cy="1210.3" r="9.5"/><use href="#R" y="1337"/><use href="#U"/><text class="k" y="1398">39</text></g>
<g transform="translate(868.93)"><line class="y" y1="1337" y2="1224.8"/><circle class="y" cy="1224.8" r="9.5"/><use href="#R" y="1337"/><use href="#U"/><text class="k" y="1398">31</text></g>
<g transform="translate(896.96)"><line class="y" y1="1337" y2="1230.1"/><circle class="y" cy="1230.1" r="9.5"/><use href="#R" y="1337"/><use href="#U"/><text class="k" y="1398">32</text></g>
<g transform="translate(924.99)"><line class="y" y1="1337" y2="1236"/><circle class="y" cy="1236" r="9.5"/><use href="#R" y="1337"/><use href="#U"/><text class="k" y="1398">33</text></g>
<g transform="translate(953.02)"><line class="y" y1="1337" y2="1253.6"/><circle class="y" cy="1253.6" r="9.5"/><use href="#R" y="1337"/><use href="#U"/><text class="k" y="1398">38</text></g>
<g transform="translate(981.05)"><line class="y" y1="1337" y2="1256.8"/><circle class="y" cy="1256.8" r="9.5"/><use href="#R" y="1337"/><use href="#U"/><text class="k" y="1398">40</text></g>
<g transform="translate(1009.08)"><line class="y" y1="1337" y2="1257.9"/><circle class="y" cy="1257.9" r="9.5"/><use href="#R" y="1337"/><use href="#U"/><text class="k" y="1398">41</text></g>
<g transform="translate(1037.11)"><line class="y" y1="1337" y2="1261.1"/><circle class="y" cy="1261.1" r="9.5"/><use href="#R" y="1337"/><use href="#U"/><text class="k" y="1398">24</text></g>
<g transform="translate(1065.14)"><line class="y" y1="1337" y2="1268"/><circle class="y" cy="1268" r="9.5"/><use href="#R" y="1337"/><use href="#U"/><text class="k" y="1398">30</text></g>
<g transform="translate(1093.17)"><line class="y" y1="1337" y2="1322.6"/><circle class="y" cy="1322.6" r="9.5"/><use href="#R" y="1337"/><use href="#U"/><text class="k" y="1398">27</text></g>
<g transform="translate(1121.2)"><line class="y" y1="1337" y2="1331.7"/><circle class="y" cy="1331.7" r="9.5"/><use href="#R" y="1337"/><use href="#U"/><text class="k" y="1398">29</text></g>
<g transform="translate(1149.23)"><circle class="y" cy="1337" r="9.5"/><use href="#R" y="1337"/><use href="#U"/><text class="k" y="1398">28</text></g>
</g>
<circle cx="2530" cy="868" r="17" fill="#595959"/>
<rect x="2515" y="922.5" width="31" height="31" fill="#595959"/>
<text class="lg" x="2561" y="887">Mean</text>
<text class="lg" x="2561" y="955">Freq</text>

<!-- ================= P5 (bar, top, v2t) ================= -->
<rect class="fr2" x="2894" y="131" width="1108" height="600"/>
<g>
<rect class="rr" x="3011" y="168" width="336" height="32"/><rect class="bb" x="3549" y="168" width="265.9" height="32"/>
<text class="v" x="3013" y="199">-0.2485</text><text class="v e" x="3813" y="199">0.1967</text><text class="L b" x="3447" y="199">11</text>
<rect class="rr" x="3045.8" y="209.2" width="301.2" height="32"/><rect class="bb" x="3549" y="209.2" width="238.5" height="32"/>
<text class="v" x="3047.8" y="240.2">-0.2228</text><text class="v e" x="3785.5" y="240.2">0.1764</text><text class="L b" x="3447" y="240.2">9</text>
<rect class="rr" x="3160.6" y="250.4" width="186.4" height="32"/><rect class="bb" x="3549" y="250.4" width="148.2" height="32"/>
<text class="v" x="3162.6" y="281.4">-0.1379</text><text class="v e" x="3695.2" y="281.4">0.1096</text><text class="L b" x="3447" y="281.4">7</text>
<rect class="rr" x="3172.3" y="291.6" width="174.7" height="32"/><rect class="bb" x="3549" y="291.6" width="138.3" height="32"/>
<text class="v" x="3174.3" y="322.6">-0.1292</text><text class="v e" x="3685.3" y="322.6">0.1023</text><text class="L b" x="3447" y="322.6">10</text>
<rect class="rr" x="3193.3" y="332.7" width="153.7" height="32"/><rect class="bb" x="3549" y="332.7" width="121.7" height="32"/>
<text class="v" x="3195.3" y="363.7">-0.1137</text><text class="v e" x="3668.7" y="363.7">0.09</text><text class="L b" x="3447" y="363.7">8</text>
<rect class="rr" x="3259.7" y="373.9" width="87.3" height="32"/><rect class="bb" x="3549" y="373.9" width="69.1" height="32"/>
<text class="v e" x="3256.7" y="404.9">-0.0646</text><text class="v" x="3621.1" y="404.9">0.0511</text><text class="L" x="3447" y="404.9">28</text>
<rect class="rr" x="3280.1" y="415.1" width="66.9" height="32"/><rect class="bb" x="3549" y="415.1" width="53" height="32"/>
<text class="v e" x="3277.1" y="446.1">-0.0495</text><text class="v" x="3605" y="446.1">0.0392</text><text class="L" x="3447" y="446.1">12</text>
<rect class="rr" x="3293.2" y="456.3" width="53.8" height="32"/><rect class="bb" x="3549" y="456.3" width="42.6" height="32"/>
<text class="v e" x="3290.2" y="487.3">-0.0398</text><text class="v" x="3594.6" y="487.3">0.0315</text><text class="L" x="3447" y="487.3">6</text>
<rect class="rr" x="3304" y="497.4" width="43" height="32"/><rect class="bb" x="3549" y="497.4" width="33.9" height="32"/>
<text class="v e" x="3301" y="528.4">-0.0318</text><text class="v" x="3585.9" y="528.4">0.0251</text><text class="L" x="3447" y="528.4">13</text>
<rect class="bb" x="3346" y="538.6" width="1" height="32"/><rect class="rr" x="3549" y="538.6" width="1" height="32"/>
<text class="v e" x="3343" y="569.6">-0.0002</text><text class="v" x="3553" y="569.6">0.0002</text><text class="L" x="3447" y="569.6">40</text>
<rect class="bb" x="3344.3" y="579.8" width="2.7" height="32"/><rect class="rr" x="3549" y="579.8" width="3.4" height="32"/>
<text class="v e" x="3341.3" y="610.8">-0.002</text><text class="v" x="3555.4" y="610.8">0.0025</text><text class="L" x="3447" y="610.8">14</text>
<rect class="bb" x="3336.7" y="621" width="10.3" height="32"/><rect class="rr" x="3549" y="621" width="13" height="32"/>
<text class="v e" x="3333.7" y="652">-0.0076</text><text class="v" x="3565" y="652">0.0096</text><text class="L" x="3447" y="652">16</text>
</g>
<text class="li" x="3449" y="707">Layer Index</text>
<rect class="bb" x="3742" y="504" width="20" height="20"/>
<rect class="rr" x="3742" y="567" width="20" height="20"/>
<text class="lg2" x="3777" y="536">Success</text>
<text class="lg2" x="3777" y="601">Failure</text>

<!-- ================= P6 (bar, top, v2v) ================= -->
<rect class="fr2" x="4016" y="131" width="1110" height="600"/>
<g>
<rect class="rr" x="4137.4" y="170" width="333.6" height="34"/><rect class="bb" x="4672" y="170" width="266.9" height="34"/>
<text class="v" x="4139.4" y="200">-0.008</text><text class="v e" x="4936.9" y="200">0.0064</text><text class="L b" x="4571" y="200">12</text>
<rect class="rr" x="4141.6" y="214.9" width="329.4" height="34"/><rect class="bb" x="4672" y="214.9" width="258.5" height="34"/>
<text class="v" x="4143.6" y="244.9">-0.0079</text><text class="v e" x="4928.5" y="244.9">0.0062</text><text class="L b" x="4571" y="244.9">13</text>
<rect class="rr" x="4241.6" y="259.8" width="229.4" height="34"/><rect class="bb" x="4672" y="259.8" width="179.3" height="34"/>
<text class="v" x="4243.6" y="289.8">-0.0055</text><text class="v e" x="4849.3" y="289.8">0.0043</text><text class="L b" x="4571" y="289.8">11</text>
<rect class="rr" x="4241.6" y="304.7" width="229.4" height="34"/><rect class="bb" x="4672" y="304.7" width="179.3" height="34"/>
<text class="v" x="4243.6" y="334.7">-0.0055</text><text class="v e" x="4849.3" y="334.7">0.0043</text><text class="L b" x="4571" y="334.7">19</text>
<rect class="rr" x="4254.2" y="349.6" width="216.8" height="34"/><rect class="bb" x="4672" y="349.6" width="166.8" height="34"/>
<text class="v" x="4256.2" y="379.6">-0.0052</text><text class="v e" x="4836.8" y="379.6">0.004</text><text class="L b" x="4571" y="379.6">9</text>
<rect class="rr" x="4283.3" y="394.5" width="187.7" height="34"/><rect class="bb" x="4672" y="394.5" width="150.1" height="34"/>
<text class="v" x="4285.3" y="424.5">-0.0045</text><text class="v e" x="4820.1" y="424.5">0.0036</text><text class="L b" x="4571" y="424.5">10</text>
<rect class="rr" x="4312.5" y="439.4" width="158.5" height="34"/><rect class="bb" x="4672" y="439.4" width="125.1" height="34"/>
<text class="v" x="4314.5" y="469.4">-0.0038</text><text class="v e" x="4795.1" y="469.4">0.003</text><text class="L" x="4571" y="469.4">18</text>
<rect class="rr" x="4345.9" y="484.3" width="125.1" height="34"/><rect class="bb" x="4672" y="484.3" width="100.1" height="34"/>
<text class="v" x="4347.9" y="514.3">-0.003</text><text class="v e" x="4770.1" y="514.3">0.0024</text><text class="L" x="4571" y="514.3">16</text>
<rect class="rr" x="4362.6" y="529.2" width="108.4" height="34"/><rect class="bb" x="4672" y="529.2" width="87.6" height="34"/>
<text class="v e" x="4359.6" y="559.2">-0.0026</text><text class="v" x="4762.6" y="559.2">0.0021</text><text class="L" x="4571" y="559.2">21</text>
<rect class="rr" x="4370.9" y="574.1" width="100.1" height="34"/><rect class="bb" x="4672" y="574.1" width="79.2" height="34"/>
<text class="v e" x="4367.9" y="604.1">-0.0024</text><text class="v" x="4754.2" y="604.1">0.0019</text><text class="L" x="4571" y="604.1">17</text>
<rect class="rr" x="4391.8" y="619" width="79.2" height="34"/><rect class="bb" x="4672" y="619" width="62.6" height="34"/>
<text class="v e" x="4388.8" y="649">-0.0019</text><text class="v" x="4737.6" y="649">0.0015</text><text class="L" x="4571" y="649">15</text>
</g>
<text class="li" x="4569" y="707">Layer Index</text>
<rect class="bb" x="4862" y="492" width="20" height="20"/>
<rect class="rr" x="4862" y="554" width="20" height="20"/>
<text class="lg2" x="4897" y="523">Success</text>
<text class="lg2" x="4897" y="587">Failure</text>

<!-- ================= P7 (bar, bottom, v2t) ================= -->
<rect class="fr2" x="2894" y="774" width="1108" height="599"/>
<g>
<rect class="rr" x="3145.5" y="805" width="201.5" height="32"/><rect class="bb" x="3549" y="805" width="302.1" height="32"/>
<text class="v" x="3147.5" y="836">-0.1329</text><text class="v e" x="3849.1" y="836">0.1993</text><text class="L b" x="3447" y="836">7</text>
<rect class="rr" x="3253.2" y="847" width="93.8" height="32"/><rect class="bb" x="3549" y="847" width="140.8" height="32"/>
<text class="v" x="3250" y="878">-0.0619</text><text class="v e" x="3687.8" y="878">0.0929</text><text class="L b" x="3447" y="878">8</text>
<rect class="bb" x="3345" y="889.1" width="2" height="32"/><rect class="rr" x="3549" y="889.1" width="1.2" height="32"/>
<text class="v e" x="3342" y="920.1">-0.0013</text><text class="v" x="3553.2" y="920.1">0.0008</text><text class="L" x="3447" y="920.1">39</text>
<rect class="bb" x="3343.1" y="931.1" width="3.9" height="32"/><rect class="rr" x="3549" y="931.1" width="2.6" height="32"/>
<text class="v e" x="3340.1" y="962.1">-0.0026</text><text class="v" x="3554.6" y="962.1">0.0017</text><text class="L" x="3447" y="962.1">11</text>
<rect class="bb" x="3318.7" y="973.2" width="28.3" height="32"/><rect class="rr" x="3549" y="973.2" width="19" height="32"/>
<text class="v e" x="3315.7" y="1004.2">-0.0187</text><text class="v" x="3571" y="1004.2">0.0125</text><text class="L" x="3447" y="1004.2">34</text>
<rect class="bb" x="3314.4" y="1015.2" width="32.6" height="32"/><rect class="rr" x="3549" y="1015.2" width="21.7" height="32"/>
<text class="v e" x="3311.4" y="1046.2">-0.0215</text><text class="v" x="3573.7" y="1046.2">0.0143</text><text class="L" x="3447" y="1046.2">31</text>
<rect class="bb" x="3309.7" y="1057.2" width="37.3" height="32"/><rect class="rr" x="3549" y="1057.2" width="24.9" height="32"/>
<text class="v e" x="3306.7" y="1088.2">-0.0246</text><text class="v" x="3576.9" y="1088.2">0.0164</text><text class="L" x="3447" y="1088.2">9</text>
<rect class="bb" x="3287.9" y="1099.3" width="59.1" height="32"/><rect class="rr" x="3549" y="1099.3" width="39.4" height="32"/>
<text class="v e" x="3284.9" y="1130.3">-0.039</text><text class="v" x="3591.4" y="1130.3">0.026</text><text class="L" x="3447" y="1130.3">6</text>
<rect class="bb" x="3256.3" y="1141.3" width="90.7" height="32"/><rect class="rr" x="3549" y="1141.3" width="60.5" height="32"/>
<text class="v e" x="3253.3" y="1172.3">-0.0598</text><text class="v" x="3612.5" y="1172.3">0.0399</text><text class="L" x="3447" y="1172.3">10</text>
<rect class="bb" x="3247.7" y="1183.4" width="99.3" height="32"/><rect class="rr" x="3549" y="1183.4" width="66.2" height="32"/>
<text class="v e" x="3244.7" y="1214.4">-0.0655</text><text class="v" x="3618.2" y="1214.4">0.0437</text><text class="L" x="3447" y="1214.4">40</text>
<rect class="bb" x="3204.2" y="1225.4" width="142.8" height="32"/><rect class="rr" x="3549" y="1225.4" width="95.2" height="32"/>
<text class="v" x="3206.2" y="1256.4">-0.0942</text><text class="v e" x="3642.2" y="1256.4">0.0628</text><text class="L" x="3447" y="1256.4">30</text>
<rect class="bb" x="3010.6" y="1267.4" width="336.4" height="32"/><rect class="rr" x="3549" y="1267.4" width="224.2" height="32"/>
<text class="v" x="3012.6" y="1298.4">-0.2219</text><text class="v e" x="3771.2" y="1298.4">0.1479</text><text class="L" x="3447" y="1298.4">28</text>
</g>
<text class="li" x="3443" y="1348">Layer Index</text>
<rect class="bb" x="3742" y="1146" width="20" height="20"/>
<rect class="rr" x="3742" y="1210" width="20" height="20"/>
<text class="lg2" x="3777" y="1179">Success</text>
<text class="lg2" x="3777" y="1243">Failure</text>

<!-- ================= P8 (bar, bottom, v2v) ================= -->
<rect class="fr2" x="4016" y="774" width="1110" height="599"/>
<g>
<rect class="rr" x="4134" y="810.6" width="336" height="38"/><rect class="bb" x="4671" y="810.6" width="294" height="38"/>
<text class="v" x="4136" y="845.6">-0.0048</text><text class="v e" x="4963" y="845.6">0.0042</text><text class="L b" x="4571" y="845.6">19</text>
<rect class="rr" x="4162" y="860.1" width="308" height="38"/><rect class="bb" x="4671" y="860.1" width="266" height="38"/>
<text class="v" x="4164" y="895.1">-0.0044</text><text class="v e" x="4935" y="895.1">0.0038</text><text class="L b" x="4571" y="895.1">10</text>
<rect class="rr" x="4197" y="909.6" width="273" height="38"/><rect class="bb" x="4671" y="909.6" width="238" height="38"/>
<text class="v" x="4199" y="944.6">-0.0039</text><text class="v e" x="4907" y="944.6">0.0034</text><text class="L b" x="4571" y="944.6">16</text>
<rect class="rr" x="4218" y="959.1" width="252" height="38"/><rect class="bb" x="4671" y="959.1" width="224" height="38"/>
<text class="v" x="4220" y="994.1">-0.0036</text><text class="v e" x="4893" y="994.1">0.0032</text><text class="L b" x="4571" y="994.1">15</text>
<rect class="rr" x="4253" y="1008.6" width="217" height="38"/><rect class="bb" x="4671" y="1008.6" width="189" height="38"/>
<text class="v" x="4255" y="1043.6">-0.0031</text><text class="v e" x="4858" y="1043.6">0.0027</text><text class="L b" x="4571" y="1043.6">13</text>
<rect class="rr" x="4260" y="1058.1" width="210" height="38"/><rect class="bb" x="4671" y="1058.1" width="182" height="38"/>
<text class="v" x="4262" y="1093.1">-0.003</text><text class="v e" x="4851" y="1093.1">0.0026</text><text class="L b" x="4571" y="1093.1">11</text>
<rect class="rr" x="4281" y="1107.6" width="189" height="38"/><rect class="bb" x="4671" y="1107.6" width="161" height="38"/>
<text class="v" x="4283" y="1142.6">-0.0027</text><text class="v e" x="4830" y="1142.6">0.0023</text><text class="L" x="4571" y="1142.6">12</text>
<rect class="rr" x="4288" y="1157.1" width="182" height="38"/><rect class="bb" x="4671" y="1157.1" width="161" height="38"/>
<text class="v" x="4290" y="1192.1">-0.0026</text><text class="v e" x="4830" y="1192.1">0.0023</text><text class="L" x="4571" y="1192.1">17</text>
<rect class="rr" x="4323" y="1206.6" width="147" height="38"/><rect class="bb" x="4671" y="1206.6" width="133" height="38"/>
<text class="v" x="4325" y="1241.6">-0.0021</text><text class="v e" x="4802" y="1241.6">0.0019</text><text class="L" x="4571" y="1241.6">18</text>
<rect class="rr" x="4393" y="1256.1" width="77" height="38"/><rect class="bb" x="4671" y="1256.1" width="63" height="38"/>
<text class="v e" x="4390" y="1291.1">-0.0011</text><text class="v" x="4737" y="1291.1">0.0009</text><text class="L" x="4571" y="1291.1">9</text>
</g>
<text class="li" x="4569" y="1348">Layer Index</text>
<rect class="bb" x="4861" y="1116" width="20" height="20"/>
<rect class="rr" x="4861" y="1181" width="20" height="20"/>
<text class="lg2" x="4895" y="1150">Success</text>
<text class="lg2" x="4895" y="1214">Failure</text>
</svg>
</body></html>
